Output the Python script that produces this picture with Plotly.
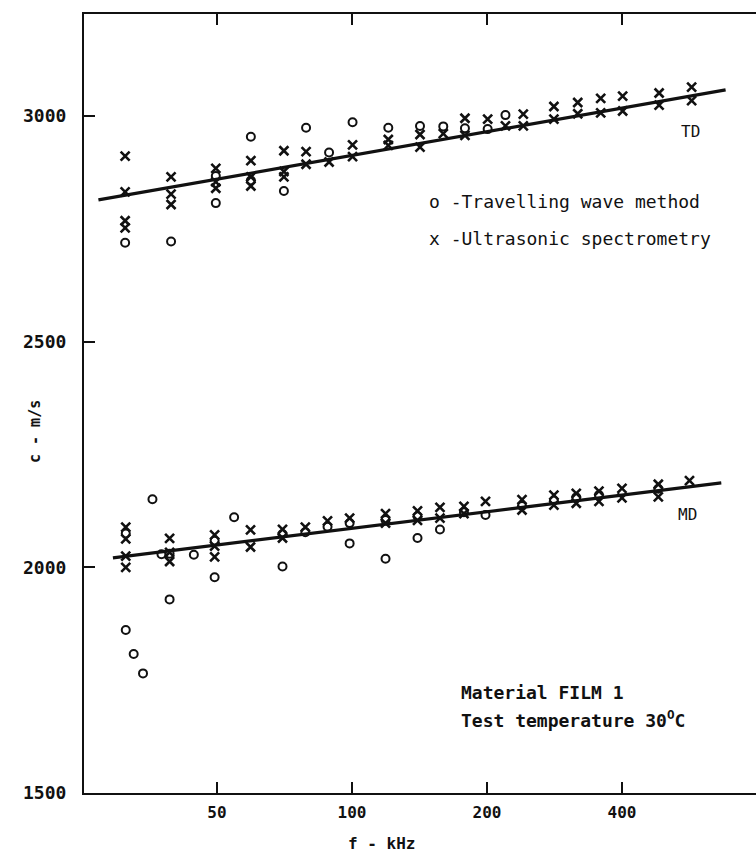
import math
import plotly.graph_objects as go

# ---------------- data ----------------
# TD direction, travelling wave method (open circles)
td_wave_f = [31.2, 39.5, 49.7, 49.7, 59.5, 59.5, 70.5, 79.0, 88.9, 100.3, 120.5, 141.8, 159.8, 178.6, 200.7, 219.9]
td_wave_c = [2719, 2722, 2867, 2807, 2954, 2857, 2834, 2974, 2919, 2986, 2974, 2978, 2977, 2973, 2971, 3002]

# TD direction, ultrasonic spectrometry (crosses)
td_spec_f = [31.2, 31.2, 31.2, 31.2, 39.5, 39.5, 39.5, 49.7, 49.7, 49.7, 59.5, 59.5, 59.5,
             70.5, 70.5, 70.5, 79.0, 79.0, 88.9, 100.3, 100.3, 120.5, 120.5, 141.8, 141.8,
             159.8, 178.6, 178.6, 200.7, 219.9, 241, 241, 282, 282, 318.7, 318.7,
             358.6, 358.6, 401.4, 401.4, 484, 484, 572, 572]
td_spec_c = [2911, 2832, 2768, 2752, 2865, 2827, 2804, 2884, 2854, 2840, 2901, 2865, 2845,
             2923, 2877, 2865, 2921, 2893, 2898, 2936, 2910, 2948, 2935, 2959, 2931,
             2961, 2995, 2957, 2993, 2978, 3004, 2978, 3021, 2993, 3030, 3005,
             3039, 3007, 3044, 3011, 3051, 3024, 3064, 3034]

# MD direction, travelling wave method (open circles)
md_wave_f = [31.3, 31.3, 32.6, 34.2, 35.9, 37.6, 39.2, 39.2, 44.4, 49.4, 49.4, 54.6, 70.0, 70.0,
             78.7, 88.2, 98.8, 98.8, 118.8, 118.8, 140, 140, 157.1, 177.7, 198.5, 239.4,
             282, 316.3, 355.4, 482]
md_wave_c = [2075, 1861, 1808, 1765, 2151, 2029, 2030, 1929, 2028, 2059, 1978, 2111, 2074, 2002,
             2078, 2090, 2098, 2053, 2105, 2019, 2113, 2065, 2084, 2122, 2116, 2136,
             2148, 2155, 2160, 2174]

# MD direction, ultrasonic spectrometry (crosses)
md_spec_f = [31.3, 31.3, 31.3, 31.3, 39.2, 39.2, 39.2, 49.4, 49.4, 49.4, 59.4, 59.4, 70.0, 70.0,
             78.7, 88.2, 98.8, 118.8, 118.8, 140, 140, 157.1, 157.1, 177.7, 177.7, 198.5,
             239.4, 239.4, 282, 282, 316.3, 316.3, 355.4, 355.4, 400, 400, 482, 482, 565.7]
md_spec_c = [2089, 2063, 2025, 2000, 2064, 2033, 2013, 2072, 2047, 2023, 2083, 2045, 2084, 2065,
             2089, 2103, 2109, 2119, 2098, 2125, 2104, 2133, 2109, 2135, 2119, 2146,
             2150, 2127, 2160, 2138, 2164, 2142, 2169, 2146, 2175, 2154, 2184, 2156, 2192]

# fitted lines (end points)
td_line_f = [27.2, 681]
td_line_c = [2814, 3058]
md_line_f = [29.3, 666]
md_line_c = [2021, 2187]

x_ticks = [50, 100, 200, 400]
y_ticks = [1500, 2000, 2500, 3000]
x_range = [25.26, 796]
y_range = [1500, 3226]

# ---------------- figure ----------------
FONT = "DejaVu Sans Mono"
BLACK = "#111111"

circle = dict(symbol="circle-open", size=8, color=BLACK, line=dict(width=2.0, color=BLACK))
cross = dict(symbol="x-thin-open", size=9, color=BLACK, line=dict(width=2.6, color=BLACK))

fig = go.Figure()
for fx, cy in ((td_line_f, td_line_c), (md_line_f, md_line_c)):
    fig.add_trace(go.Scatter(x=fx, y=cy, mode="lines", line=dict(color=BLACK, width=3.2),
                             showlegend=False, hoverinfo="skip"))
fig.add_trace(go.Scatter(x=td_spec_f, y=td_spec_c, mode="markers", marker=cross, showlegend=False))
fig.add_trace(go.Scatter(x=md_spec_f, y=md_spec_c, mode="markers", marker=cross, showlegend=False))
fig.add_trace(go.Scatter(x=td_wave_f, y=td_wave_c, mode="markers", marker=circle, showlegend=False))
fig.add_trace(go.Scatter(x=md_wave_f, y=md_wave_c, mode="markers", marker=circle, showlegend=False))

axis_common = dict(showgrid=False, zeroline=False, showline=True, linecolor=BLACK, linewidth=2,
                   ticks="inside", ticklen=11, tickwidth=1.6, tickcolor=BLACK)

fig.update_xaxes(type="log", range=[math.log10(x_range[0]), math.log10(x_range[1])],
                 tickvals=x_ticks, ticktext=[str(v) for v in x_ticks], ticklabelstandoff=4,
                 mirror="ticks",
                 tickfont=dict(family=FONT, size=16, color=BLACK, weight="bold"),
                 **axis_common)
fig.update_yaxes(range=y_range, tickvals=y_ticks, ticktext=[str(v) for v in y_ticks],
                 ticklabelstandoff=12, mirror=False,
                 tickfont=dict(family=FONT, size=18, color=BLACK, weight="bold"),
                 **axis_common)

ann_font = dict(family=FONT, size=18, color=BLACK)
annotations = [
    dict(text="o -Travelling wave method", x=0.5104, y=0.7587, xanchor="left", yanchor="middle", font=ann_font),
    dict(text="x -Ultrasonic spectrometry", x=0.5104, y=0.7118, xanchor="left", yanchor="middle", font=ann_font),
    dict(text="Material FILM 1", x=0.558, y=0.1288, xanchor="left", yanchor="middle",
         font=dict(family=FONT, size=18, color=BLACK, weight="bold")),
    dict(text="Test temperature 30<sup>O</sup>C", x=0.558, y=0.0945, xanchor="left", yanchor="middle",
         font=dict(family=FONT, size=18, color=BLACK, weight="bold")),
    dict(text="TD", x=0.9028, y=0.8498, xanchor="center", yanchor="middle", font=dict(family=FONT, size=16, color=BLACK)),
    dict(text="MD", x=0.8978, y=0.3578, xanchor="center", yanchor="middle", font=dict(family=FONT, size=16, color=BLACK)),
    dict(text="c - m/s", x=-0.0729, y=0.4634, xanchor="center", yanchor="middle", textangle=-90,
         font=dict(family=FONT, size=15, color=BLACK, weight="bold")),
    dict(text="f - kHz", x=0.442, y=-0.0642, xanchor="center", yanchor="middle",
         font=dict(family=FONT, size=16, color=BLACK, weight="bold")),
]
for a in annotations:
    a.update(xref="paper", yref="paper", showarrow=False)

fig.update_layout(width=756, height=853, margin=dict(l=84, r=0, t=14, b=60),
                  paper_bgcolor="white", plot_bgcolor="white", annotations=annotations,
                  showlegend=False)

fig.write_html("out.html")
